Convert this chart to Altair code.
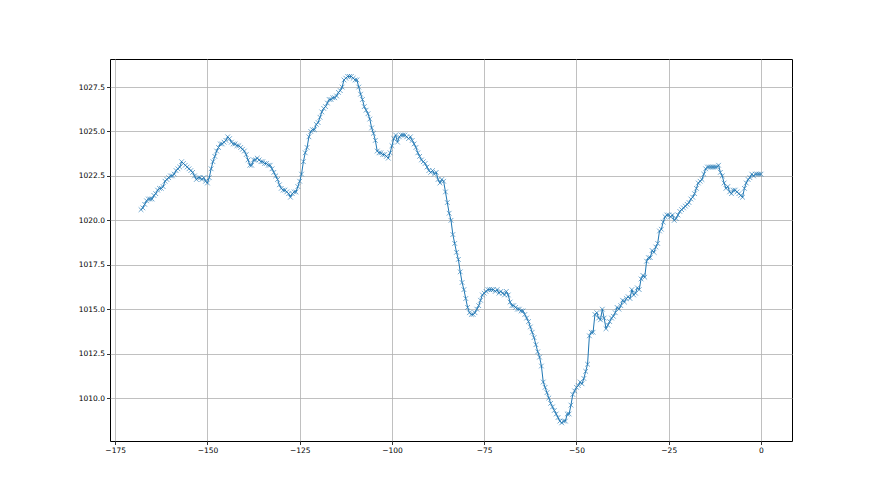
import altair as alt
import pandas as pd

# half-hourly readings, hours -168 .. 0
pressure = [
    1020.6, 1020.7, 1020.9, 1021.1, 1021.2, 1021.2, 1021.2, 1021.4, 1021.5, 1021.7,
    1021.8, 1021.8, 1021.9, 1022.2, 1022.3, 1022.4, 1022.5, 1022.5, 1022.6, 1022.8,
    1022.9, 1023.0, 1023.3, 1023.2, 1023.1, 1023.0, 1022.9, 1022.8, 1022.7, 1022.5,
    1022.3, 1022.4, 1022.4, 1022.3, 1022.4, 1022.2, 1022.1, 1022.4, 1022.9, 1023.3,
    1023.6, 1023.9, 1024.1, 1024.3, 1024.3, 1024.4, 1024.5, 1024.7, 1024.6, 1024.4,
    1024.3, 1024.3, 1024.2, 1024.2, 1024.1, 1024.0, 1023.9, 1023.7, 1023.4, 1023.1,
    1023.1, 1023.4, 1023.4, 1023.5, 1023.4, 1023.3, 1023.3, 1023.2, 1023.2, 1023.1,
    1023.1, 1022.9, 1022.7, 1022.5, 1022.3, 1022.0, 1021.8, 1021.7, 1021.7, 1021.6,
    1021.5, 1021.3, 1021.5, 1021.6, 1021.6, 1021.9, 1022.2, 1022.6, 1023.3, 1023.8,
    1024.1, 1024.7, 1025.0, 1025.1, 1025.1, 1025.4, 1025.5, 1025.8, 1026.1, 1026.3,
    1026.4, 1026.6, 1026.8, 1026.8, 1026.9, 1026.9, 1027.0, 1027.2, 1027.3, 1027.5,
    1027.9, 1028.0, 1028.1, 1028.1, 1028.1, 1028.0, 1027.9, 1027.9, 1027.5, 1027.1,
    1026.8, 1026.4, 1026.2, 1026.0, 1025.7, 1025.2, 1024.9, 1024.5, 1023.9, 1023.8,
    1023.8, 1023.7, 1023.7, 1023.6, 1023.5, 1023.8, 1024.2, 1024.6, 1024.8, 1024.4,
    1024.7, 1024.8, 1024.8, 1024.8, 1024.7, 1024.6, 1024.7, 1024.5, 1024.3, 1024.1,
    1023.8, 1023.6, 1023.4, 1023.3, 1023.2, 1023.0, 1022.8, 1022.7, 1022.8, 1022.6,
    1022.7, 1022.3, 1022.1, 1022.3, 1022.2, 1021.6, 1021.0, 1020.4, 1020.0, 1019.2,
    1018.7, 1018.2, 1017.8, 1017.1, 1016.5, 1016.1, 1015.6, 1015.1, 1014.8, 1014.7,
    1014.7, 1014.8, 1015.0, 1015.2, 1015.5, 1015.8, 1015.9, 1016.0, 1016.1, 1016.1,
    1016.1, 1016.1, 1016.0, 1016.1, 1015.9, 1016.0, 1015.9, 1015.8, 1016.0, 1015.8,
    1015.4, 1015.2, 1015.2, 1015.1, 1015.0, 1015.0, 1014.9, 1014.9, 1014.7, 1014.5,
    1014.3, 1014.0, 1013.7, 1013.4, 1013.0, 1012.6, 1012.3, 1011.8, 1010.9, 1010.6,
    1010.3, 1010.0, 1009.7, 1009.5, 1009.3, 1009.1, 1008.9, 1008.7, 1008.6, 1008.7,
    1008.7, 1009.1, 1009.1, 1009.6, 1010.2, 1010.4, 1010.6, 1010.7, 1010.9, 1010.8,
    1011.1, 1011.5, 1011.9, 1013.5, 1013.7, 1013.7, 1014.7, 1014.8, 1014.5, 1014.4,
    1015.0, 1014.5, 1013.9, 1014.1, 1014.3, 1014.5, 1014.6, 1014.8, 1015.1, 1015.0,
    1015.2, 1015.5, 1015.4, 1015.6, 1015.7, 1015.6, 1016.1, 1015.8, 1015.9, 1016.2,
    1016.1, 1016.7, 1016.9, 1016.8, 1017.7, 1017.9, 1017.9, 1018.3, 1018.2, 1018.5,
    1018.7, 1019.4, 1019.5, 1019.9, 1020.2, 1020.3, 1020.3, 1020.2, 1020.3, 1020.0,
    1020.1, 1020.3, 1020.5, 1020.6, 1020.7, 1020.8, 1020.9, 1021.0, 1021.2, 1021.3,
    1021.5, 1021.8, 1022.1, 1022.2, 1022.3, 1022.6, 1022.9, 1023.0, 1023.0, 1023.0,
    1023.0, 1023.0, 1023.0, 1023.1, 1022.7, 1022.5, 1022.1, 1021.8, 1021.9, 1021.6,
    1021.5, 1021.7, 1021.7, 1021.6, 1021.5, 1021.4, 1021.3, 1021.8, 1022.1, 1022.3,
    1022.4, 1022.6, 1022.5, 1022.6, 1022.6, 1022.6, 1022.6,
]
hours = [i * 0.5 for i in range(-(len(pressure) - 1), 1)]
x_ticks = [-175, -150, -125, -100, -75, -50, -25, 0]
y_ticks = [1010.0, 1012.5, 1015.0, 1017.5, 1020.0, 1022.5, 1025.0, 1027.5]

df = pd.DataFrame({"h": hours, "p": pressure})

x_enc = alt.X("h:Q", scale=alt.Scale(domain=[-176.4, 8.4], nice=False, zero=False),
              axis=alt.Axis(values=x_ticks, format="d", title=None))
y_enc = alt.Y("p:Q", scale=alt.Scale(domain=[1007.58, 1029.08], nice=False, zero=False),
              axis=alt.Axis(values=y_ticks, format=".1f", title=None))

line = alt.Chart(df).mark_line(color="#1f77b4", strokeWidth=1).encode(x=x_enc, y=y_enc)
pts = alt.Chart(df).mark_point(
    shape="M-1,-1L1,1M1,-1L-1,1", filled=False, color="#1f77b4",
    size=22, strokeWidth=0.9, opacity=0.7
).encode(x=x_enc, y=y_enc)

chart = (line + pts).properties(
    width=682, height=382,
    autosize=alt.AutoSizeParams(type="none"),
    padding={"left": 102, "top": 51, "right": 60, "bottom": 40},
    background="white",
).configure_view(stroke="black", strokeWidth=1).configure_axis(
    domain=False, grid=True, gridColor="#b0b0b0", gridWidth=0.8, gridOpacity=1,
    ticks=True, tickColor="black", tickSize=3.5, tickWidth=0.8,
    labelFont="DejaVu Sans", labelFontSize=7.5, labelColor="black", labelPadding=2,
)

chart.save("out.html", embed_options={"renderer": "svg", "actions": False})
